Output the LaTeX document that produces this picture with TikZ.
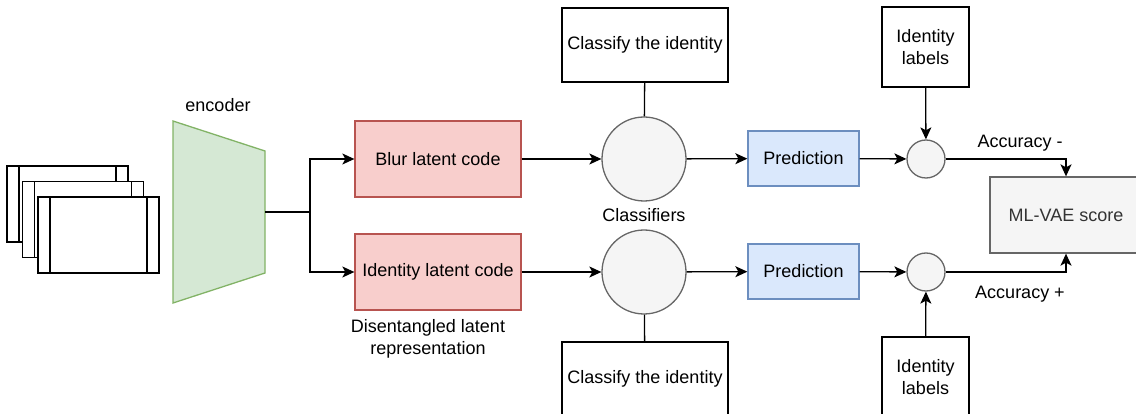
\documentclass[tikz,border=0pt]{standalone}
\usepackage{fontspec}
\setmainfont{Liberation Sans}
\usetikzlibrary{arrows.meta}

\definecolor{encfill}{HTML}{D5E8D4}
\definecolor{encline}{HTML}{82B366}
\definecolor{codefill}{HTML}{F8CECC}
\definecolor{codeline}{HTML}{B85450}
\definecolor{predfill}{HTML}{DAE8FC}
\definecolor{predline}{HTML}{6C8EBF}
\definecolor{greyfill}{HTML}{F5F5F5}
\definecolor{greyline}{HTML}{666666}
\definecolor{greytext}{HTML}{333333}

\begin{document}
\begin{tikzpicture}[x=1pt,y=-1pt,line width=1.3pt,
    >={Stealth[length=12pt,width=11pt,inset=3pt]},
    every node/.style={font=\fontsize{18}{22}\selectfont,inner sep=0pt},
    codebox/.style={draw=codeline,fill=codefill,minimum width=166pt,minimum height=76pt},
    predbox/.style={draw=predline,fill=predfill,minimum width=111pt,minimum height=55pt},
    taskbox/.style={draw,fill=white,minimum width=166pt,minimum height=74pt},
    labelbox/.style={draw,fill=white,minimum width=87pt,minimum height=80pt,align=center},
    classifier/.style={circle,draw=greyline,fill=greyfill,minimum size=84pt},
    compare/.style={circle,draw=greyline,fill=greyfill,minimum size=38pt}]
    \useasboundingbox (0,0) rectangle (1136,414);

    % input frames
    \foreach \i in {0,1,2} {
        \pgfmathsetmacro{\fx}{7+15.5*\i}
        \pgfmathsetmacro{\fy}{166+15.5*\i}
        \draw [fill=white] (\fx,\fy) rectangle ++(121,76);
        \draw (\fx+12,\fy) -- ++(0,76);
        \draw (\fx+109,\fy) -- ++(0,76);
    }

    % encoder
    \draw [encline,fill=encfill] (173,121) -- (265,151) -- (265,273) -- (173,303) -- cycle;
    \node (enclabel) at (218,105) {encoder};
    \coordinate (enc) at (265,212);
    \coordinate (split) at (310,212);

    % latent codes
    \node [codebox] (blur) at (438,159) {Blur latent code};
    \node [codebox] (ident) at (438,272) {Identity latent code};
    \node [align=center] (latlabel) at (428,339) {Disentangled latent\\representation};

    % classifiers
    \node [classifier] (clsA) at (644,159) {};
    \node [classifier] (clsB) at (644,272) {};
    \node (clslabel) at (644,215) {Classifiers};
    \node [taskbox] (taskA) at (645,45) {Classify the identity};
    \node [taskbox] (taskB) at (645,379) {Classify the identity};

    % predictions and comparison
    \node [predbox] (predA) at (803.5,158.5) {Prediction};
    \node [predbox] (predB) at (803.5,271.5) {Prediction};
    \node [compare] (cmpA) at (926,159) {};
    \node [compare] (cmpB) at (926,272) {};
    \node [labelbox] (labA) at (925.5,47) {Identity\\labels};
    \node [labelbox] (labB) at (925.5,377) {Identity\\labels};

    % score
    \node [draw=greyline,fill=greyfill,text=greytext,minimum width=152pt,minimum height=76pt] (score) at (1066,215) {ML-VAE score};
    \node (accA) at (1020,143) {Accuracy -};
    \node (accB) at (1020,294) {Accuracy +};

    % connectors
    \draw (enc) -- (split);
    \draw [->] (split) |- (blur.west);
    \draw [->] (split) |- (ident.west);
    \draw [->] (blur) -- (clsA);
    \draw [->] (ident) -- (clsB);
    \draw (clsA) -- (taskA);
    \draw (clsB) -- (taskB);
    \draw [->] (clsA) -- (predA);
    \draw [->] (clsB) -- (predB);
    \draw [->] (predA) -- (cmpA);
    \draw [->] (predB) -- (cmpB);
    \draw [->] (labA) -- (cmpA);
    \draw [->] (labB) -- (cmpB);
    \draw [->] (cmpA) -| (score.north);
    \draw [->] (cmpB) -| (score.south);
\end{tikzpicture}
\end{document}
